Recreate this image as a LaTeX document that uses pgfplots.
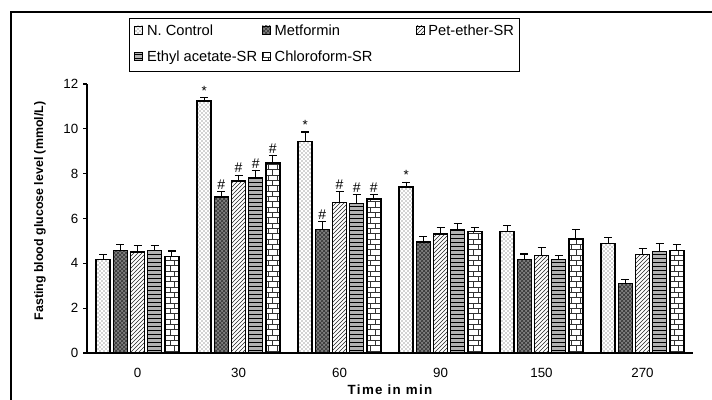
\documentclass[border=0pt]{standalone}
\usepackage{fontspec}
\setmainfont{Liberation Sans}
\usepackage{pgfplots}
\pgfplotsset{compat=1.18}
\usetikzlibrary{patterns}

\pgfdeclarepatternformonly{mybricks}{\pgfqpoint{-0.5pt}{-0.5pt}}{\pgfqpoint{7.5pt}{8.5pt}}{\pgfqpoint{7pt}{8pt}}{%
  \pgfsetlinewidth{0.7pt}%
  \pgfpathmoveto{\pgfqpoint{0pt}{0pt}}\pgfpathlineto{\pgfqpoint{7pt}{0pt}}%
  \pgfpathmoveto{\pgfqpoint{0pt}{4pt}}\pgfpathlineto{\pgfqpoint{7pt}{4pt}}%
  \pgfpathmoveto{\pgfqpoint{1.5pt}{0pt}}\pgfpathlineto{\pgfqpoint{1.5pt}{4pt}}%
  \pgfpathmoveto{\pgfqpoint{5pt}{4pt}}\pgfpathlineto{\pgfqpoint{5pt}{8pt}}%
  \pgfusepath{stroke}}

\pgfplotsset{
  mylegend/.style={legend image code/.code={\draw[##1, line width=0.5pt] (0pt,0.8pt) rectangle (6pt,6.8pt);}},
  commonaxis/.style={scale only axis, width=454.5pt, height=201.75pt,
    xmin=-0.5, xmax=5.5, ymin=0, ymax=12},
  barline/.style={/tikz/draw=black, /tikz/line width=1.1pt},
}

\begin{document}
\begin{tikzpicture}
\useasboundingbox (-65.25pt,-34.5pt) rectangle (468.75pt,264.75pt);
\draw[line width=1.2pt] (-57pt,-40pt) -- (-57pt,255.75pt) -- (480pt,255.75pt);
\begin{axis}[
  commonaxis,
  ybar=2.43pt, bar width=10.45pt,
  axis x line*=bottom, axis y line*=left, axis line style={-, line width=0.9pt},
  xtick={0,1,2,3,4,5}, xticklabels={0,30,60,90,150,270},
  ytick={0,2,4,6,8,10,12},
  tick align=outside, major tick length=3pt,
  xtick style={draw=none},
  ytick style={line width=0.8pt, black},
  /pgf/number format/assume math mode=true,
  ticklabel style={font=\fontsize{10}{12}\selectfont},
  xticklabel style={yshift=-4.5pt},
  xlabel={Time in min},
  ylabel={Fasting blood glucose level (mmol/L)},
  xlabel style={at={(axis description cs:0.5,-0.1375)}, anchor=center, font=\bfseries\fontsize{10}{12}\selectfont\addfontfeature{LetterSpace=10}},
  ylabel style={at={(axis description cs:-0.0776,0.528)}, anchor=center, font=\bfseries\fontsize{9.3}{11}\selectfont},
  clip=false,
  error bars/y dir=plus, error bars/y explicit,
  error bars/error bar style={line width=0.9pt, black},
  error bars/error mark options={rotate=90, mark size=3pt, line width=0.9pt, black},
  legend columns=3,
  legend cell align=left,
  legend style={at={(0.0693,1.2454)}, anchor=north west, draw=black, line width=0.6pt,
    font=\fontsize{11}{13}\selectfont, inner xsep=3.75pt, inner ysep=4.5pt,
    row sep=9.5pt,
    nodes={inner sep=0pt, text height=8pt, text depth=2.5pt, anchor=base west}},
]
\addplot[barline, pattern=crosshatch dots, pattern color=black!75, mylegend]
  table[x=x, y=y, y error=e] {
x y e
0 4.17 0.23
1 11.24 0.15
2 9.44 0.42
3 7.40 0.22
4 5.41 0.27
5 4.88 0.26
};
\addlegendentry{\hspace*{3pt}\makebox[86.25pt][l]{N. Control}}
\addplot[barline, fill=black!50, postaction={pattern=crosshatch, pattern color=black!80}, mylegend]
  table[x=x, y=y, y error=e] {
x y e
0 4.57 0.27
1 6.95 0.25
2 5.51 0.36
3 4.96 0.22
4 4.17 0.25
5 3.10 0.19
};
\addlegendentry{\hspace*{3pt}\makebox[105.75pt][l]{Metformin}}
\addplot[barline, pattern=north east lines, pattern color=black!85, mylegend]
  table[x=x, y=y, y error=e] {
x y e
0 4.51 0.27
1 7.67 0.26
2 6.71 0.49
3 5.30 0.30
4 4.36 0.36
5 4.40 0.27
};
\addlegendentry{\hspace*{3pt}Pet-ether-SR}
\addplot[barline, fill=black!30, postaction={pattern=horizontal lines, pattern color=black}, mylegend]
  table[x=x, y=y, y error=e] {
x y e
0 4.57 0.21
1 7.82 0.33
2 6.67 0.40
3 5.51 0.26
4 4.17 0.19
5 4.52 0.36
};
\addlegendentry{\hspace*{3pt}\makebox[86.25pt][l]{Ethyl acetate-SR}}
\addplot[barline, pattern=mybricks, pattern color=black!80, mylegend]
  table[x=x, y=y, y error=e] {
x y e
0 4.31 0.24
1 8.48 0.34
2 6.88 0.19
3 5.41 0.19
4 5.09 0.41
5 4.57 0.27
};
\addlegendentry{\hspace*{3pt}\makebox[105.75pt][l]{Chloroform-SR}}
\end{axis}
\begin{axis}[commonaxis, hide axis, clip=false]
\addplot[only marks, mark=*, mark size=0.01pt, mark options={draw=none, fill=none},
  nodes near coords={*}, nodes near coords style={anchor=south, inner sep=1.5pt, font=\fontsize{10}{12}\selectfont}]
  coordinates {(0.66,11.39) (1.66,9.86) (2.66,7.62)};
\addplot[only marks, mark=*, mark size=0.01pt, mark options={draw=none, fill=none},
  nodes near coords={\#}, nodes near coords style={anchor=south, inner sep=1.5pt, font=\fontsize{10.5}{12}\selectfont}]
  coordinates {(0.83,7.20) (1.00,7.93) (1.17,8.15) (1.34,8.82) (1.83,5.87) (2.00,7.20) (2.17,7.07) (2.34,7.07)};
\end{axis}
\end{tikzpicture}
\end{document}
